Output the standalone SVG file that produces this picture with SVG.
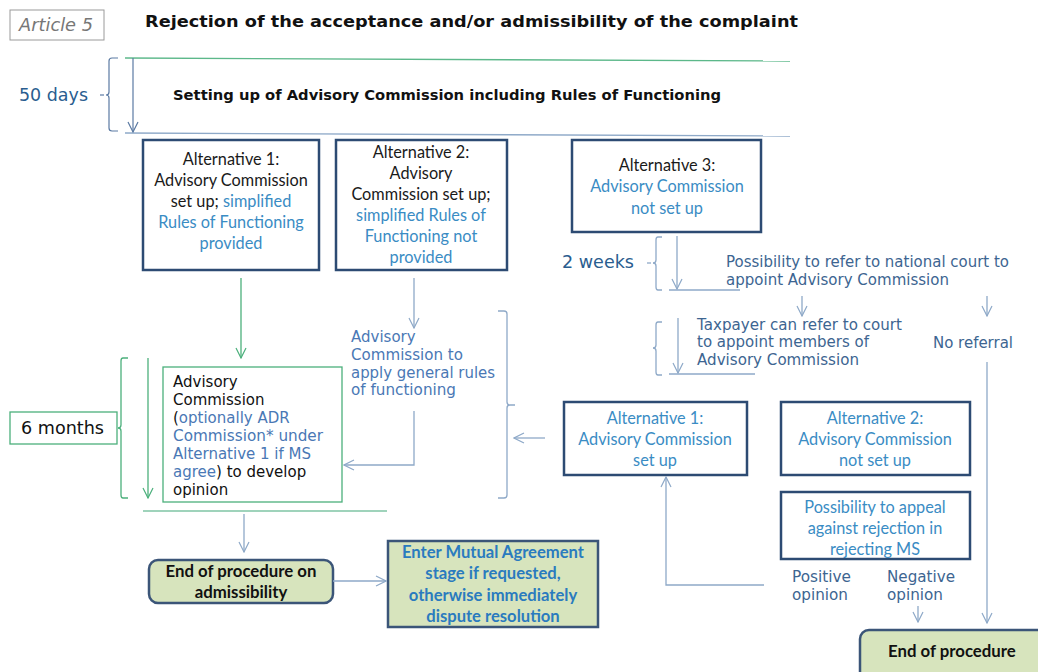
<svg xmlns="http://www.w3.org/2000/svg" width="1038" height="672" viewBox="0 0 1038 672">
<defs>
<marker id="ab" viewBox="0 0 12 12" refX="11" refY="6" markerWidth="12" markerHeight="12" markerUnits="userSpaceOnUse" orient="auto"><path d="M1,1 L11,6 L1,11" fill="none" stroke="#8ea9c8" stroke-width="1.2"/></marker>
<marker id="ad" viewBox="0 0 12 12" refX="11" refY="6" markerWidth="12" markerHeight="12" markerUnits="userSpaceOnUse" orient="auto"><path d="M1,1 L11,6 L1,11" fill="none" stroke="#5b7aa3" stroke-width="1.2"/></marker>
<marker id="ag" viewBox="0 0 12 12" refX="11" refY="6" markerWidth="12" markerHeight="12" markerUnits="userSpaceOnUse" orient="auto"><path d="M1,1 L11,6 L1,11" fill="none" stroke="#4cb07c" stroke-width="1.2"/></marker>
</defs>
<style>
.box{fill:#fff;stroke:#2d4b73;stroke-width:2.5}
.gbox{fill:#fff;stroke:#4cb07c;stroke-width:1.3}
.end{fill:#d7e4bd;stroke:#3b5578;stroke-width:2.5}
.cal{font-family:Lato,"Open Sans",sans-serif;font-size:16.3px;fill:#1a1a1a;text-anchor:middle}
.calb{font-family:Lato,"Open Sans",sans-serif;font-size:16.3px;fill:#3a8cc4;text-anchor:middle}
.lb{fill:#3a8cc4}
.ver{font-family:"DejaVu Sans",Verdana,sans-serif;font-size:15px;fill:#3d6591}
.verk{font-family:"DejaVu Sans",Verdana,sans-serif;font-size:15px;fill:#111}
.vb{fill:#4a78b5}
.bold{font-family:"DejaVu Sans",Verdana,sans-serif;font-weight:bold;fill:#111}
.endt{font-family:Lato,"Open Sans",sans-serif;font-weight:bold;font-size:16.8px;fill:#111;text-anchor:middle}
.mut{font-family:Lato,"Open Sans",sans-serif;font-weight:bold;font-size:16.6px;fill:#2a7bbf;text-anchor:middle}
.lbl{font-family:"DejaVu Sans",Verdana,sans-serif;font-size:18px;fill:#2a5d8f}
.ln{fill:none;stroke:#8ea9c8;stroke-width:1.3}
.lnd{fill:none;stroke:#5b7aa3;stroke-width:1.2}
.lng{fill:none;stroke:#4cb07c;stroke-width:1.3}
</style>

<g id="header">
<rect x="10" y="10" width="94" height="30" fill="#fff" stroke="#9a9a9a" stroke-width="1"/>
<text x="19" y="31" font-family="'DejaVu Sans',Verdana,sans-serif" font-style="italic" font-size="17" fill="#777" textLength="74" lengthAdjust="spacingAndGlyphs">Article 5</text>
<text x="145" y="27" class="bold" font-size="15.5" textLength="653" lengthAdjust="spacingAndGlyphs">Rejection of the acceptance and/or admissibility of the complaint</text>
</g>

<g id="setup">
<line x1="125" y1="58" x2="790" y2="61" stroke="#5cb88a" stroke-width="1.3"/>
<line x1="125" y1="133" x2="790" y2="136" stroke="#8ea9c8" stroke-width="1.3"/>
<text x="173" y="100" class="bold" font-size="13.5" textLength="548" lengthAdjust="spacingAndGlyphs">Setting up of Advisory Commission including Rules of Functioning</text>
<text x="19" y="101" class="lbl" textLength="69" lengthAdjust="spacingAndGlyphs">50 days</text>
</g>

<g id="alt1">
<rect class="box" x="143" y="140" width="176" height="130"/>
<text class="cal"><tspan x="231" y="165">Alternative 1:</tspan><tspan x="231" y="186">Advisory Commission</tspan><tspan x="231" y="207">set up; <tspan class="lb">simplified</tspan></tspan><tspan x="231" y="228" class="lb">Rules of Functioning</tspan><tspan x="231" y="249" class="lb">provided</tspan></text>
</g>

<g id="alt2">
<rect class="box" x="336" y="140" width="171" height="130"/>
<text class="cal"><tspan x="421" y="158">Alternative 2:</tspan><tspan x="421" y="179">Advisory</tspan><tspan x="421" y="200">Commission set up;</tspan><tspan x="421" y="221" class="lb">simplified Rules of</tspan><tspan x="421" y="242" class="lb">Functioning not</tspan><tspan x="421" y="263" class="lb">provided</tspan></text>
</g>

<g id="alt3">
<rect class="box" x="572" y="140" width="189" height="92"/>
<text class="cal"><tspan x="667" y="171">Alternative 3:</tspan><tspan x="667" y="192" class="lb">Advisory Commission</tspan><tspan x="667" y="214" class="lb">not set up</tspan></text>
</g>

<g id="weeks">
<text x="562" y="268" class="lbl" textLength="72" lengthAdjust="spacingAndGlyphs">2 weeks</text>
<text class="ver"><tspan x="726" y="267" textLength="283" lengthAdjust="spacingAndGlyphs">Possibility to refer to national court to</tspan><tspan x="726" y="285" textLength="223" lengthAdjust="spacingAndGlyphs">appoint Advisory Commission</tspan></text>
</g>

<g id="taxpayer">
<text class="ver"><tspan x="697" y="330" textLength="205" lengthAdjust="spacingAndGlyphs">Taxpayer can refer to court</tspan><tspan x="697" y="347" textLength="172" lengthAdjust="spacingAndGlyphs">to appoint members of</tspan><tspan x="697" y="365" textLength="162" lengthAdjust="spacingAndGlyphs">Advisory Commission</tspan></text>
</g>

<g id="noref">
<text x="933" y="348" class="ver" textLength="80" lengthAdjust="spacingAndGlyphs">No referral</text>
</g>

<g id="apply">
<text class="ver" style="fill:#4a78b5"><tspan x="351" y="342">Advisory</tspan><tspan x="351" y="360" textLength="112" lengthAdjust="spacingAndGlyphs">Commission to</tspan><tspan x="351" y="378" textLength="144" lengthAdjust="spacingAndGlyphs">apply general rules</tspan><tspan x="351" y="395" textLength="105" lengthAdjust="spacingAndGlyphs">of functioning</tspan></text>
</g>

<g id="opinion">
<rect class="gbox" x="163" y="367" width="179" height="135"/>
<text class="verk"><tspan x="173" y="387">Advisory</tspan><tspan x="173" y="405">Commission</tspan><tspan x="173" y="423">(<tspan class="vb">optionally ADR</tspan></tspan><tspan x="173" y="441" class="vb" textLength="150" lengthAdjust="spacingAndGlyphs">Commission* under</tspan><tspan x="173" y="459" class="vb" textLength="138" lengthAdjust="spacingAndGlyphs">Alternative 1 if MS</tspan><tspan x="173" y="477"><tspan class="vb">agree</tspan>) to develop</tspan><tspan x="173" y="495">opinion</tspan></text>
</g>

<g id="months">
<rect class="gbox" x="10" y="412" width="107" height="32"/>
<text x="21" y="434" class="lbl" style="fill:#111" textLength="83" lengthAdjust="spacingAndGlyphs">6 months</text>
</g>

<g id="lalt1">
<rect class="box" x="564" y="402" width="183" height="73"/>
<text class="calb"><tspan x="655" y="424">Alternative 1:</tspan><tspan x="655" y="445">Advisory Commission</tspan><tspan x="655" y="466">set up</tspan></text>
</g>

<g id="lalt2">
<rect class="box" x="781" y="402" width="189" height="73"/>
<text class="calb"><tspan x="875" y="424">Alternative 2:</tspan><tspan x="875" y="445">Advisory Commission</tspan><tspan x="875" y="466">not set up</tspan></text>
</g>

<g id="appeal">
<rect class="box" x="781" y="492" width="189" height="67"/>
<text class="calb"><tspan x="875" y="513">Possibility to appeal</tspan><tspan x="875" y="534">against rejection in</tspan><tspan x="875" y="555">rejecting MS</tspan></text>
</g>

<g id="posneg">
<text class="ver"><tspan x="792" y="582" textLength="59" lengthAdjust="spacingAndGlyphs">Positive</tspan><tspan x="792" y="600" textLength="56" lengthAdjust="spacingAndGlyphs">opinion</tspan></text>
<text class="ver"><tspan x="887" y="582" textLength="68" lengthAdjust="spacingAndGlyphs">Negative</tspan><tspan x="887" y="600" textLength="56" lengthAdjust="spacingAndGlyphs">opinion</tspan></text>
</g>

<g id="endproc">
<rect class="end" x="860" y="630" width="190" height="50" rx="9"/>
<text x="888" y="657" class="endt" style="text-anchor:start">End of procedure</text>
</g>

<g id="endadm">
<rect class="end" x="149" y="560" width="184" height="43" rx="9"/>
<text class="endt"><tspan x="241" y="577">End of procedure on</tspan><tspan x="241" y="598">admissibility</tspan></text>
</g>

<g id="mutual">
<rect class="end" x="388" y="541" width="210" height="86"/>
<text class="mut"><tspan x="493" y="558">Enter Mutual Agreement</tspan><tspan x="493" y="579">stage if requested,</tspan><tspan x="493" y="601">otherwise immediately</tspan><tspan x="493" y="622">dispute resolution</tspan></text>
</g>

<g id="connectors">
<path class="lnd" d="M118,58 H112 Q109,58 109,61 V92 Q109,95 106,95 Q109,95 109,98 V128 Q109,131 112,131 H118"/>
<line class="lnd" x1="100" y1="95" x2="104" y2="95"/>
<line class="lnd" x1="133" y1="58" x2="133" y2="132" marker-end="url(#ad)"/>
<line class="lng" x1="241" y1="278" x2="241" y2="358" marker-end="url(#ag)"/>
<line class="ln" x1="414" y1="278" x2="414" y2="328" marker-end="url(#ab)"/>
<path class="ln" d="M414,411 V465 H344" marker-end="url(#ab)"/>
<path class="lng" d="M128,358 H123 Q121,358 121,361 V425 Q121,428 118,428 Q121,428 121,431 V495 Q121,498 123,498 H128"/>
<line class="lng" x1="148" y1="358" x2="148" y2="498" marker-end="url(#ag)"/>
<line x1="143" y1="511" x2="387" y2="511" stroke="#7fc4a4" stroke-width="1.3"/>
<path class="ln" d="M498,311 H504 Q507,311 507,314 V402 Q507,405 510,405 H515 M510,405 Q507,405 507,408 V495 Q507,498 504,498 H498"/>
<line class="ln" x1="545" y1="438" x2="514" y2="438" marker-end="url(#ab)"/>
<path class="ln" d="M662,237 H658 Q656,237 656,240 V260 Q656,263 653,263 Q656,263 656,266 V287 Q656,290 658,290 H662"/>
<line class="ln" x1="647" y1="263" x2="651" y2="263"/>
<line class="ln" x1="677" y1="236" x2="677" y2="289" marker-end="url(#ab)"/>
<line class="ln" x1="669" y1="290" x2="740" y2="290"/>
<line class="ln" x1="802" y1="296" x2="802" y2="316" marker-end="url(#ab)"/>
<line class="ln" x1="987" y1="296" x2="987" y2="316" marker-end="url(#ab)"/>
<path class="ln" d="M662,322 H658 Q656,322 656,325 V345 Q656,348 653,348 Q656,348 656,351 V372 Q656,375 658,375 H662"/>
<line class="ln" x1="678" y1="318" x2="678" y2="373" marker-end="url(#ab)"/>
<line class="ln" x1="669" y1="374" x2="755" y2="374"/>
<line class="ln" x1="987" y1="362" x2="987" y2="623" marker-end="url(#ab)"/>
<path class="ln" d="M764,585 H666 V477" marker-end="url(#ab)"/>
<line class="ln" x1="918" y1="606" x2="918" y2="622" marker-end="url(#ab)"/>
<line class="ln" x1="244" y1="514" x2="244" y2="552" marker-end="url(#ab)"/>
<line class="ln" x1="333" y1="581" x2="386" y2="581" marker-end="url(#ab)"/>
</g>
</svg>
